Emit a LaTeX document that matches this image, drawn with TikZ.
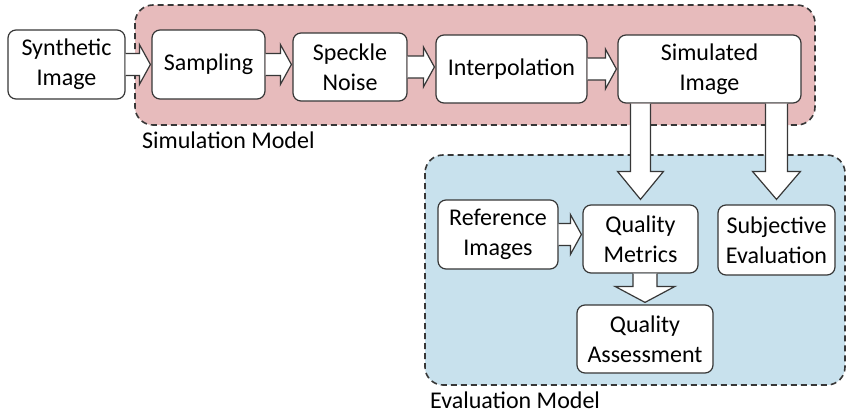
\documentclass[tikz,border=0pt]{standalone}
\usepackage{fontspec}
\setmainfont{Carlito}
\usetikzlibrary{calc}
\definecolor{simbg}{RGB}{231,187,188}
\definecolor{evalbg}{RGB}{200,225,237}
\definecolor{edge}{RGB}{55,55,55}
\tikzset{
  box/.style={draw=edge, line width=1.2pt, rounded corners=8pt, fill=white, align=center,
    inner sep=0pt, font=\fontsize{24}{30}\selectfont},
  group/.style={draw=edge, line width=1.6pt, dash pattern=on 6pt off 4pt, rounded corners=18pt},
  barrow/.style={draw=edge, line width=1.2pt, fill=white, line join=miter},
  grouplabel/.style={anchor=west, inner sep=0pt, font=\fontsize{24}{29}\selectfont}
}
\newcommand{\hblockarrow}[2]{%
  \draw[barrow] ($(#1.east)+(0,-11)$) -- ($(#2.west |- #1.east)+(-12,-11)$)
    -- ($(#2.west |- #1.east)+(-12,-20)$) -- ($(#2.west |- #1.east)+(-1,0)$)
    -- ($(#2.west |- #1.east)+(-12,20)$) -- ($(#2.west |- #1.east)+(-12,11)$)
    -- ($(#1.east)+(0,11)$);}
% #1 source, #2 target, #3 shaft half, #4 head half, #5 head start above target, #6 tip gap
\newcommand{\vblockarrow}[6]{%
  \draw[barrow] ($(#1.south -| #2.north)+(-#3,0)$) -- ($(#2.north)+(-#3,-#5)$)
    -- ($(#2.north)+(-#4,-#5)$) -- ($(#2.north)+(0,-#6)$)
    -- ($(#2.north)+(#4,-#5)$) -- ($(#2.north)+(#3,-#5)$)
    -- ($(#1.south -| #2.north)+(#3,0)$);}
\begin{document}
\begin{tikzpicture}[x=1pt,y=-1pt]
\useasboundingbox (0,0) rectangle (847,415);
% groups
\draw[group, fill=simbg] (135,5) rectangle (815,125);
\draw[group, fill=evalbg] (425,155) rectangle (845,385);
\node[grouplabel] (simlabel) at (142,140) {Simulation Model};
\node[grouplabel] (evallabel) at (430,400) {Evaluation Model};
% nodes
\node[box, minimum width=117pt, minimum height=69pt] (syn) at (66.5,64.5) {Synthetic\\Image};
\node[box, minimum width=113pt, minimum height=69pt] (samp) at (208.5,64.5) {Sampling};
\node[box, minimum width=114pt, minimum height=68pt] (speck) at (350,67) {Speckle\\Noise};
\node[box, minimum width=151pt, minimum height=68pt] (interp) at (511.5,69) {Interpolation};
\node[box, minimum width=183pt, minimum height=68pt] (simul) at (709.5,69) {Simulated\\Image};
\node[box, minimum width=120pt, minimum height=69pt] (ref) at (498,234.5) {Reference\\Images};
\node[box, minimum width=115pt, minimum height=68pt] (qm) at (640.5,239) {Quality\\Metrics};
\node[box, minimum width=117pt, minimum height=70pt] (subj) at (776.5,240) {Subjective\\Evaluation};
\node[box, minimum width=136pt, minimum height=68pt] (qa) at (645,339) {Quality\\Assessment};
% block arrows
\hblockarrow{syn}{samp}
\hblockarrow{samp}{speck}
\hblockarrow{speck}{interp}
\hblockarrow{interp}{simul}
\hblockarrow{ref}{qm}
\vblockarrow{simul}{qm}{10}{23}{33}{5}
\vblockarrow{simul}{subj}{11}{24}{33}{5}
\vblockarrow{qm}{qa}{12}{30}{18}{2}
\end{tikzpicture}
\end{document}
